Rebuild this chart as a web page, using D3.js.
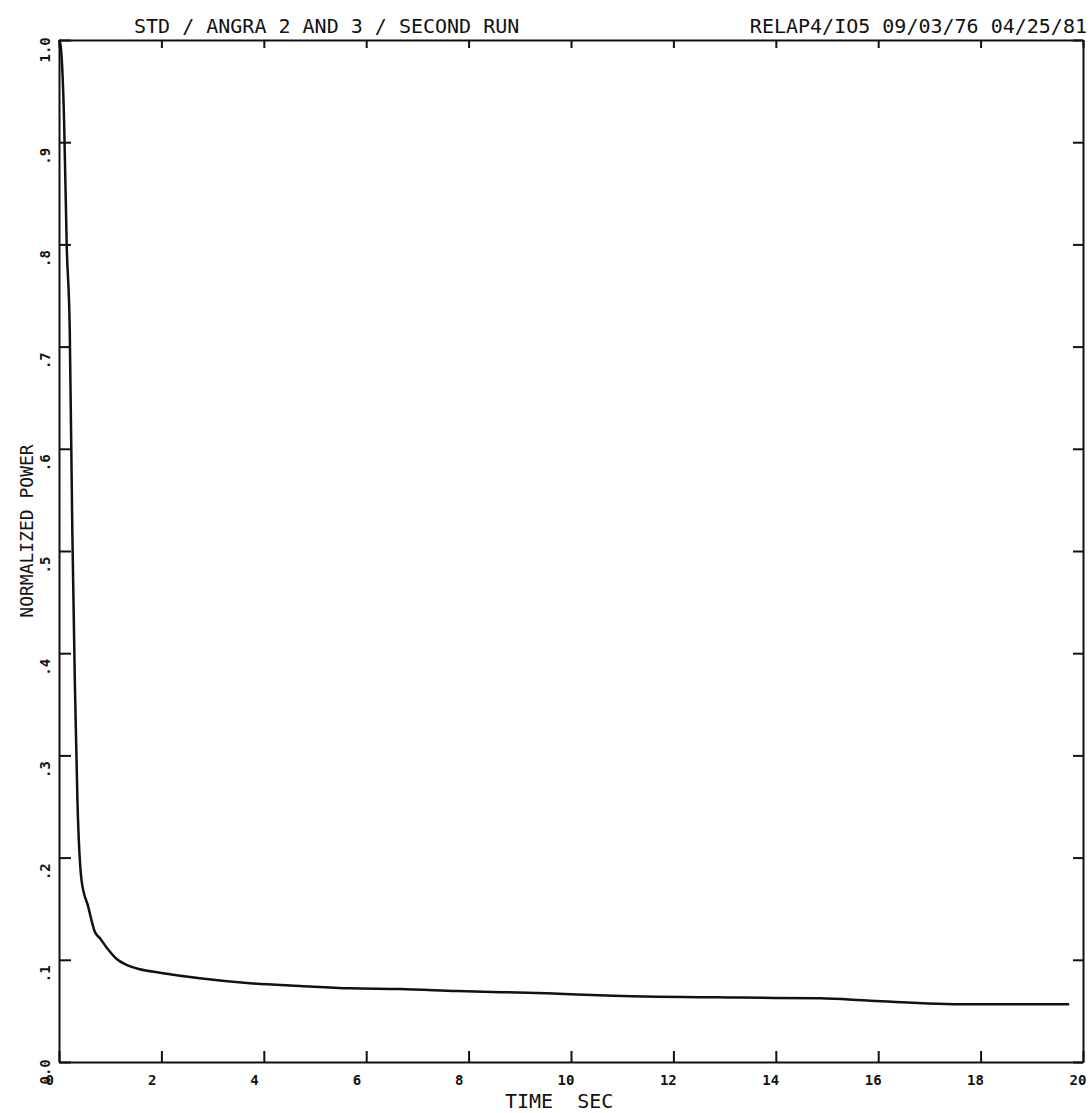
<html>
<head>
  <title>Normalized power</title>
  <style>
  body { margin: 0; background: #fff; }
  .curve {
     fill: none;
     stroke: #111;
     stroke-width: 2.5px;
     stroke-linejoin: round;
   }
  .axis path, .axis line {
     stroke: #111;
     stroke-width: 2px;
   }
  .tick-label {
     font-family: "DejaVu Sans Mono", monospace;
     font-size: 14px;
     font-weight: bold;
     fill: #111;
   }
  .title {
     font-family: "DejaVu Sans Mono", monospace;
     font-size: 20px;
     fill: #111;
     white-space: pre;
   }
  </style>
  <script src="https://cdn.jsdelivr.net/npm/d3@7"></script>
</head>
<body>
  <svg id="chart" width="1092" height="1113"></svg>

  <script>
  // data
  var timeSec   = [0, 0.03, 0.1, 0.15, 0.21, 0.26, 0.31, 0.36, 0.44, 0.57, 0.7, 0.8, 0.96, 1.12, 1.32, 1.58, 1.97, 2.75, 3.73, 4.71, 5.68, 6.66, 7.77, 9.53, 10.83, 13.3, 14.87, 15.85, 17.74, 19.73];
  var normPower = [1.0, 0.995, 0.92, 0.80, 0.716, 0.52, 0.37, 0.256, 0.178, 0.152, 0.1275, 0.121, 0.110, 0.101, 0.095, 0.0907, 0.0874, 0.0819, 0.077, 0.0744, 0.0721, 0.0714, 0.0695, 0.0672, 0.0649, 0.063, 0.0623, 0.060, 0.0565, 0.0565];

  var xTicks = [0, 2, 4, 6, 8, 10, 12, 14, 16, 18, 20];
  var xTickLabels = ["0", "2", "4", "6", "8", "10", "12", "14", "16", "18", "20"];
  var yTicks = [0, 0.1, 0.2, 0.3, 0.4, 0.5, 0.6, 0.7, 0.8, 0.9, 1.0];
  var yTickLabels = ["0.0", ".1", ".2", ".3", ".4", ".5", ".6", ".7", ".8", ".9", "1.0"];

  var titleLeft = "STD / ANGRA 2 AND 3 / SECOND RUN";
  var titleRight = "RELAP4/IO5 09/03/76 04/25/81";
  var xTitle = "TIME  SEC";
  var yTitle = "NORMALIZED POWER";

  var svg = d3.select("#chart");
  var plotL = 59, plotR = 1083, plotT = 40, plotB = 1062;

  var x = d3.scaleLinear().domain([0, 20]).range([plotL, plotR]);
  var y = d3.scaleLinear().domain([0, 1]).range([plotB, plotT]);

  // axes, ticks pointing inward
  var gBottom = svg.append("g").attr("class", "axis")
    .attr("transform", "translate(0," + plotB + ")")
    .call(d3.axisBottom(x).tickValues(xTicks).tickSizeInner(-11).tickSizeOuter(0)
      .tickFormat(function(d, i) { return xTickLabels[i]; }));
  gBottom.selectAll("text")
    .attr("class", "tick-label")
    .attr("text-anchor", "start")
    .attr("x", -14).attr("y", 23).attr("dy", null);

  var gTop = svg.append("g").attr("class", "axis")
    .attr("transform", "translate(0," + plotT + ")")
    .call(d3.axisTop(x).tickValues(xTicks).tickSizeInner(-8).tickSizeOuter(0).tickFormat(""));

  var gLeft = svg.append("g").attr("class", "axis")
    .attr("transform", "translate(" + plotL + ",0)")
    .call(d3.axisLeft(y).tickValues(yTicks).tickSizeInner(-12).tickSizeOuter(0)
      .tickFormat(function(d, i) { return yTickLabels[i]; }));
  gLeft.selectAll("text")
    .attr("class", "tick-label")
    .attr("text-anchor", "start")
    .attr("x", 0).attr("y", 0).attr("dy", null)
    .attr("transform", "translate(-9,22) rotate(-90)");

  var gRight = svg.append("g").attr("class", "axis")
    .attr("transform", "translate(" + plotR + ",0)")
    .call(d3.axisRight(y).tickValues(yTicks).tickSizeInner(-10).tickSizeOuter(0).tickFormat(""));

  svg.selectAll(".axis").attr("font-family", null).attr("font-size", null);

  // power curve
  var line = d3.line()
    .x(function(d, i) { return x(timeSec[i]); })
    .y(function(d) { return y(d); })
    .curve(d3.curveMonotoneX);

  svg.append("path")
    .datum(normPower)
    .attr("class", "curve")
    .attr("d", line);

  // titles
  svg.append("text").attr("class", "title")
    .attr("x", 134).attr("y", 33)
    .text(titleLeft);

  svg.append("text").attr("class", "title")
    .attr("x", 1087).attr("y", 33)
    .attr("text-anchor", "end")
    .text(titleRight);

  svg.append("text").attr("class", "title")
    .attr("x", 505).attr("y", 1108)
    .text(xTitle);

  svg.append("text").attr("class", "title")
    .attr("text-anchor", "middle")
    .style("font-size", "18px")
    .attr("transform", "translate(33,531) rotate(-90)")
    .text(yTitle);
  </script>
</body>
</html>
